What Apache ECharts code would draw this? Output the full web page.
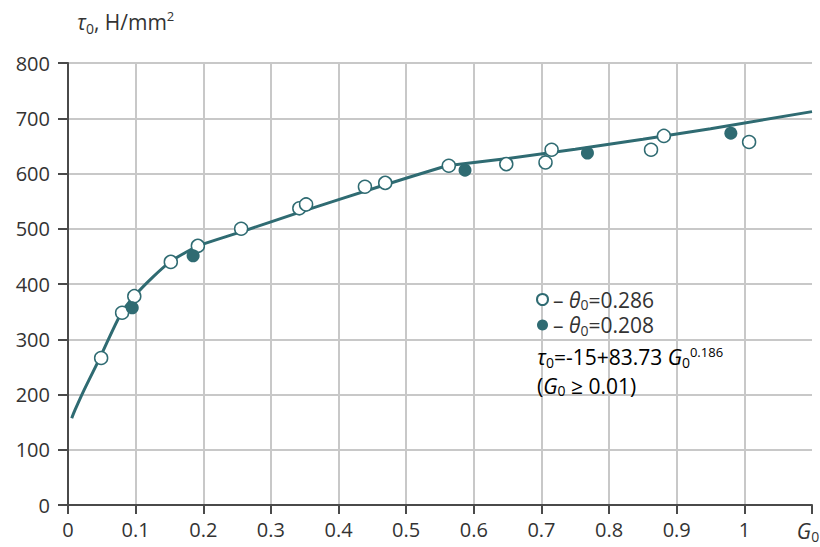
<!DOCTYPE html>
<html>
<head>
<meta charset="utf-8">
<script src="https://cdn.jsdelivr.net/npm/echarts@6/dist/echarts.min.js"></script>
<style>
html,body{margin:0;padding:0;background:#fff;}
#chart{width:820px;height:547px;}
</style>
</head>
<body>
<div id="chart"></div>
<script>
// ---- data ----
const xTicks = [0, 0.1, 0.2, 0.3, 0.4, 0.5, 0.6, 0.7, 0.8, 0.9, 1, 1.1];
const yTicks = [0, 100, 200, 300, 400, 500, 600, 700, 800];

// fitted curve, lower (curved) part and upper (straight) part
const fitLowX  = [0.0055, 0.0104, 0.0237, 0.047, 0.079, 0.098, 0.125, 0.151, 0.175, 0.195, 0.255, 0.343, 0.462, 0.56];
const fitLowY  = [157, 172, 208, 266, 348, 378, 412, 440, 458, 470, 494, 530, 577, 614];
const fitHighX = [0.56, 0.65, 0.75, 0.85, 0.95, 1.1];
const fitHighY = [614, 627, 644, 662, 681, 712];

// theta0 = 0.286 (open circles)
const openX = [0.049, 0.080, 0.098, 0.152, 0.192, 0.256, 0.342, 0.352, 0.439, 0.469, 0.563, 0.648, 0.706, 0.715, 0.862, 0.881, 1.007];
const openY = [266, 348, 378, 440, 469, 500, 537, 544, 576, 583, 614, 617, 620, 643, 643, 668, 657];

// theta0 = 0.208 (filled circles)
const filledX = [0.095, 0.185, 0.587, 0.768, 0.980];
const filledY = [357, 451, 606, 637, 673];

const nameOpen = 'θ0=0.286';
const nameFilled = 'θ0=0.208';

// ---- chart ----
const teal = '#2f6b72';
const txt = '#333333';
const FONT = '"Open Sans", "Noto Sans", sans-serif';

const zip = (xs, ys) => xs.map((x, i) => [x, ys[i]]);

const richBase = {
  n:   { fontSize: 21, fontFamily: FONT, color: txt, lineHeight: 24 },
  i:   { fontSize: 21, fontFamily: FONT, color: txt, fontStyle: 'italic', lineHeight: 24 },
  s:   { fontSize: 14, fontFamily: FONT, color: txt, lineHeight: 10, verticalAlign: 'bottom' },
  sup: { fontSize: 13, fontFamily: FONT, color: txt, lineHeight: 10, verticalAlign: 'top' }
};

const chart = echarts.init(document.getElementById('chart'), null, { renderer: 'svg' });

chart.setOption({
  animation: false,
  backgroundColor: '#ffffff',
  grid: { left: 68, right: 8, top: 63, bottom: 42, outerBoundsMode: 'none' },
  xAxis: {
    type: 'value',
    min: xTicks[0],
    max: xTicks[xTicks.length - 1],
    interval: 0.1,
    axisLine: { show: true, lineStyle: { color: '#4a4a4a', width: 2 } },
    axisTick: { show: true, inside: false, length: 9, lineStyle: { color: '#4a4a4a', width: 2 } },
    splitLine: { show: true, showMaxLine: false, lineStyle: { color: '#c8c8c8', width: 2 } },
    axisLabel: {
      margin: 14,
      fontSize: 20,
      fontFamily: FONT,
      color: txt,
      showMaxLabel: true,
      formatter: function (v) {
        if (Math.abs(v - 1.1) < 1e-6) return '{g|G}{gs|0}';
        return String(+v.toFixed(1));
      },
      rich: {
        g:  { fontSize: 21, fontFamily: FONT, color: txt, fontStyle: 'italic', lineHeight: 24 },
        gs: { fontSize: 14, fontFamily: FONT, color: txt, lineHeight: 10, verticalAlign: 'bottom', padding: [0, 8, 0, 0] }
      }
    }
  },
  yAxis: {
    type: 'value',
    min: yTicks[0],
    max: yTicks[yTicks.length - 1],
    interval: 100,
    name: '{i|τ}{s|0}{n|, H/mm}{sup|2}',
    nameLocation: 'end',
    nameGap: 28,
    nameTextStyle: {
      align: 'left',
      padding: [0, 0, 0, 9],
      rich: {
        n:   { fontSize: 21, fontFamily: FONT, color: txt, lineHeight: 26 },
        i:   { fontSize: 21, fontFamily: FONT, color: txt, fontStyle: 'italic', lineHeight: 26 },
        s:   { fontSize: 14, fontFamily: FONT, color: txt, lineHeight: 12, verticalAlign: 'bottom' },
        sup: { fontSize: 13, fontFamily: FONT, color: txt, lineHeight: 14, verticalAlign: 'top' }
      }
    },
    axisLine: { show: true, lineStyle: { color: '#4a4a4a', width: 2 } },
    axisTick: { show: true, inside: false, length: 10, lineStyle: { color: '#4a4a4a', width: 2 } },
    splitLine: { show: true, lineStyle: { color: '#c8c8c8', width: 2 } },
    axisLabel: { margin: 18, fontSize: 20, fontFamily: FONT, color: txt }
  },
  legend: {
    orient: 'vertical',
    left: 536,
    top: 289,
    padding: 0,
    itemGap: 3,
    itemWidth: 11,
    itemHeight: 11,
    icon: 'circle',
    data: [nameOpen, nameFilled],
    formatter: function (name) {
      const parts = name.split('=');
      return '{n|– }{i|θ}{s|0}{n|=' + parts[1] + '}';
    },
    textStyle: { rich: richBase }
  },
  graphic: [
    {
      type: 'text',
      left: 537,
      top: 345,
      z: 100,
      style: {
        text: '{i|τ}{s|0}{n|=-15+83.73 }{i|G}{s|0}{sup|0.186}',
        rich: richBase
      }
    },
    {
      type: 'text',
      left: 537,
      top: 375,
      z: 100,
      style: {
        text: '{n|(}{i|G}{s|0}{n| ≥ 0.01)}',
        rich: richBase
      }
    }
  ],
  series: [
    {
      name: 'fit-low',
      type: 'line',
      data: zip(fitLowX, fitLowY),
      smooth: 0.3,
      showSymbol: false,
      symbol: 'none',
      lineStyle: { color: teal, width: 3 },
      z: 2,
      silent: true
    },
    {
      name: 'fit-high',
      type: 'line',
      data: zip(fitHighX, fitHighY),
      smooth: false,
      showSymbol: false,
      symbol: 'none',
      lineStyle: { color: teal, width: 3 },
      z: 2,
      silent: true
    },
    {
      name: nameOpen,
      type: 'scatter',
      data: zip(openX, openY),
      symbol: 'circle',
      symbolSize: 13,
      itemStyle: { color: '#ffffff', borderColor: teal, borderWidth: 1.5, opacity: 1 },
      z: 5
    },
    {
      name: nameFilled,
      type: 'scatter',
      data: zip(filledX, filledY),
      symbol: 'circle',
      symbolSize: 13,
      itemStyle: { color: teal, borderColor: teal, borderWidth: 0, opacity: 1 },
      z: 5
    }
  ]
});
</script>
</body>
</html>
